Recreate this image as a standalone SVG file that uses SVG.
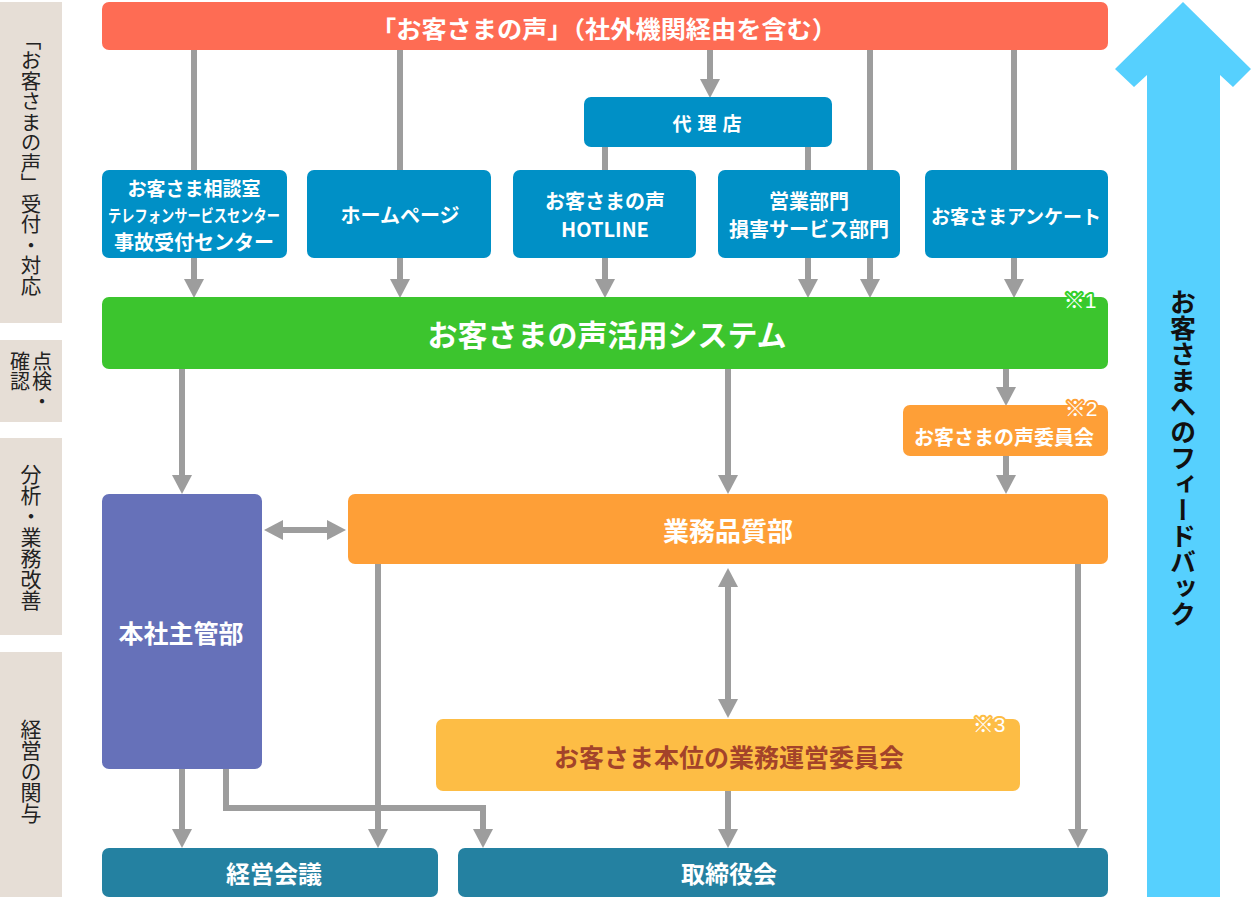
<svg xmlns="http://www.w3.org/2000/svg" width="1252" height="900" viewBox="0 0 1252 900">
<style>
text{font-family:"Noto Sans CJK JP","Noto Sans",sans-serif;}
.w{fill:#fff;font-weight:700;text-anchor:middle;dominant-baseline:central;}
.lab rect{fill:#e6ded6;}
.v{writing-mode:vertical-rl;fill:#222;text-anchor:middle;}
.blue{fill:#0090c6;}
.cn{fill:none;stroke:#9d9d9d;stroke-width:6;}
.note{fill:#fff;font-family:"Liberation Sans","Noto Sans CJK JP",sans-serif;font-size:21px;paint-order:stroke;stroke-width:4;stroke-linejoin:round;text-anchor:middle;dominant-baseline:central;}
</style>
<defs>
<marker id="ah" markerUnits="userSpaceOnUse" markerWidth="20" markerHeight="20" refX="0" refY="10" orient="auto-start-reverse" viewBox="0 0 19 20">
<path d="M0,0 L19,10 L0,20 Z" fill="#9d9d9d"/>
</marker>
</defs>

<g id="labels" class="lab">
<rect x="0" y="2" width="62" height="321"/>
<text class="v" x="31" y="163" font-size="20.5">「お客さまの声」受付・対応</text>
<rect x="0" y="340" width="62" height="82"/>
<text class="v" x="42" y="381" font-size="20">点検・</text>
<text class="v" x="20" y="371" font-size="20">確認</text>
<rect x="0" y="438" width="62" height="197"/>
<text class="v" x="31" y="537" font-size="21">分析・業務改善</text>
<rect x="0" y="652" width="62" height="245"/>
<text class="v" x="31" y="771" font-size="21">経営の関与</text>
</g>

<g id="connectors">
<path class="cn" d="M194,50 V279" marker-end="url(#ah)"/>
<path class="cn" d="M400,50 V279" marker-end="url(#ah)"/>
<path class="cn" d="M710,50 V79" marker-end="url(#ah)"/>
<path class="cn" d="M870,50 V279" marker-end="url(#ah)"/>
<path class="cn" d="M605,147 V279" marker-end="url(#ah)"/>
<path class="cn" d="M808,147 V279" marker-end="url(#ah)"/>
<path class="cn" d="M1014,50 V279" marker-end="url(#ah)"/>
<path class="cn" d="M182,369 V475" marker-end="url(#ah)"/>
<path class="cn" d="M728,369 V475" marker-end="url(#ah)"/>
<path class="cn" d="M1006,369 V387" marker-end="url(#ah)"/>
<path class="cn" d="M1006,456 V475" marker-end="url(#ah)"/>
<path class="cn" d="M283,530 H327" marker-start="url(#ah)" marker-end="url(#ah)"/>
<path class="cn" d="M728,587 V699" marker-start="url(#ah)" marker-end="url(#ah)"/>
<path class="cn" d="M378,564 V829" marker-end="url(#ah)"/>
<path class="cn" d="M1078,564 V829" marker-end="url(#ah)"/>
<path class="cn" d="M728,791 V829" marker-end="url(#ah)"/>
<path class="cn" d="M182,769 V829" marker-end="url(#ah)"/>
<path class="cn" d="M226,769 V808 H483 V829" marker-end="url(#ah)"/>
</g>

<g id="voice">
<rect x="102" y="2" width="1006" height="48" rx="7" fill="#fe6c54"/>
<text class="w" x="604" y="27" font-size="24" textLength="466" lengthAdjust="spacingAndGlyphs">「お客さまの声」（社外機関経由を含む）</text>
</g>

<g id="dairiten">
<rect class="blue" x="584" y="97" width="248" height="50" rx="7"/>
<text class="w" x="710" y="122" font-size="19" letter-spacing="6">代理店</text>
</g>

<g id="soudan">
<rect class="blue" x="102" y="170" width="185" height="88" rx="7"/>
<text class="w" x="194" y="187" font-size="19">お客さま相談室</text>
<text class="w" x="194" y="214" font-size="17" textLength="172" lengthAdjust="spacingAndGlyphs">テレフォンサービスセンター</text>
<text class="w" x="194" y="241" font-size="20">事故受付センター</text>
</g>

<g id="homepage">
<rect class="blue" x="307" y="170" width="184" height="88" rx="7"/>
<text class="w" x="400" y="214" font-size="20">ホームページ</text>
</g>

<g id="hotline">
<rect class="blue" x="513" y="170" width="183" height="88" rx="7"/>
<text class="w" x="605" y="200" font-size="20">お客さまの声</text>
<text class="w" x="605" y="228" font-size="20">HOTLINE</text>
</g>

<g id="eigyo">
<rect class="blue" x="718" y="170" width="182" height="88" rx="7"/>
<text class="w" x="809" y="200" font-size="20">営業部門</text>
<text class="w" x="809" y="228" font-size="20">損害サービス部門</text>
</g>

<g id="enquete">
<rect class="blue" x="925" y="170" width="183" height="88" rx="7"/>
<text class="w" x="1016" y="215" font-size="19">お客さまアンケート</text>
</g>

<g id="system">
<rect x="102" y="297" width="1006" height="72" rx="7" fill="#3cc52e"/>
<text class="w" x="607" y="333" font-size="30">お客さまの声活用システム</text>
<text class="note" x="1080" y="300" stroke="#34cf2a">※1</text>
</g>

<g id="iinkai">
<rect x="903" y="405" width="205" height="51" rx="7" fill="#fe9f37"/>
<text class="w" x="1004" y="436" font-size="20">お客さまの声委員会</text>
<text class="note" x="1081" y="408" stroke="#fe9f37">※2</text>
</g>

<g id="honsha">
<rect x="102" y="494" width="160" height="275" rx="7" fill="#6671b9"/>
<text class="w" x="181" y="632" font-size="25">本社主管部</text>
</g>

<g id="gyomu">
<rect x="348" y="494" width="760" height="70" rx="7" fill="#fe9f37"/>
<text class="w" x="728" y="529" font-size="26">業務品質部</text>
</g>

<g id="honni">
<rect x="436" y="719" width="584" height="72" rx="7" fill="#fdbd45"/>
<text class="w" x="729" y="756" font-size="25" style="fill:#a3432a">お客さま本位の業務運営委員会</text>
<text class="note" x="989" y="724" stroke="#fdbd45">※3</text>
</g>

<g id="keiei">
<rect x="102" y="848" width="336" height="49" rx="7" fill="#2481a1"/>
<text class="w" x="274" y="872" font-size="24">経営会議</text>
</g>

<g id="torishimari">
<rect x="458" y="848" width="650" height="49" rx="7" fill="#2481a1"/>
<text class="w" x="729" y="872" font-size="24">取締役会</text>
</g>

<g id="feedback">
<polygon points="1183,2 1251,69 1233,87 1220,75 1220,897 1147,897 1147,75 1134,87 1115,69" fill="#56d0fe"/>
<text class="v" x="1183" y="458" font-size="26" font-weight="700" style="fill:#111">お客さまへのフィードバック</text>
</g>
</svg>
